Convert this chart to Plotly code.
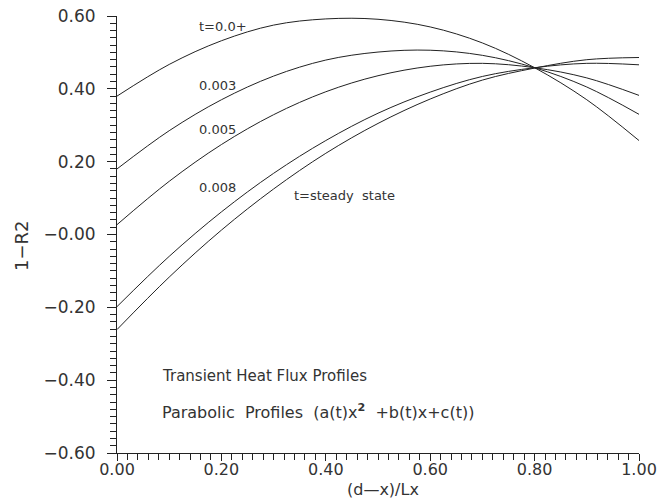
import plotly.graph_objects as go

x_vals = [0.0, 0.1, 0.2, 0.3, 0.4, 0.5, 0.6, 0.7, 0.8, 0.9, 1.0]
t_0plus = [0.380, 0.467, 0.532, 0.575, 0.592, 0.591, 0.570, 0.526, 0.458, 0.370, 0.258]
t_003 = [0.180, 0.285, 0.370, 0.435, 0.479, 0.501, 0.506, 0.492, 0.458, 0.405, 0.330]
t_005 = [0.027, 0.146, 0.247, 0.329, 0.392, 0.436, 0.462, 0.470, 0.458, 0.430, 0.382]
t_008 = [-0.198, -0.060, 0.062, 0.168, 0.258, 0.333, 0.391, 0.434, 0.458, 0.470, 0.466]
t_steady = [-0.261, -0.117, 0.012, 0.125, 0.223, 0.305, 0.372, 0.424, 0.457, 0.480, 0.486]

series = [t_0plus, t_003, t_005, t_008, t_steady]

y_ticks = [-0.6, -0.4, -0.2, 0.0, 0.2, 0.4, 0.6]
y_tick_text = ["\u22120.60", "\u22120.40", "\u22120.20", "\u22120.00", "0.20", "0.40", "0.60"]
x_ticks = [0.0, 0.2, 0.4, 0.6, 0.8, 1.0]
x_tick_text = ["0.00", "0.20", "0.40", "0.60", "0.80", "1.00"]

FONT = "DejaVu Sans"
TXT = "#333333"
NB = "\u00a0"

fig = go.Figure()
for s in series:
    fig.add_trace(go.Scatter(x=x_vals, y=s, mode="lines",
                             line=dict(color="#222222", width=1, shape="spline", smoothing=1.0),
                             showlegend=False, hoverinfo="skip"))

labels = [
    ("t=0.0+", 0.153, 0.570, 13),
    ("0.003", 0.153, 0.408, 13),
    ("0.005", 0.153, 0.287, 13),
    ("0.008", 0.153, 0.128, 13),
    ("t=steady" + NB * 2 + "state", 0.335, 0.106, 13),
    ("Transient" + NB + "Heat" + NB + "Flux" + NB + "Profiles", 0.082, -0.388, 15),
    ("Parabolic" + NB * 2 + "Profiles" + NB * 2 + "(a(t)x<b><sup>2</sup></b>" + NB * 2
     + "+b(t)x+c(t))", 0.082, -0.485, 16),
]
for t, xx, yy, sz in labels:
    fig.add_annotation(x=xx, y=yy, text=t, showarrow=False, xanchor="left", yanchor="middle",
                       font=dict(family=FONT, size=sz, color=TXT))

# axis titles
fig.add_annotation(xref="paper", yref="paper", x=0.51, y=-0.084, text="(d\u2014x)/Lx",
                   showarrow=False, xanchor="center", yanchor="middle",
                   font=dict(family=FONT, size=16, color=TXT))
fig.add_annotation(xref="paper", yref="paper", x=-0.182, y=0.476, text="1\u2212R2",
                   showarrow=False, xanchor="center", yanchor="middle", textangle=-90,
                   font=dict(family=FONT, size=18, color=TXT))

fig.update_layout(
    width=667, height=501,
    margin=dict(l=117, r=28, t=16, b=48, autoexpand=False),
    paper_bgcolor="white", plot_bgcolor="white",
    font=dict(family=FONT, color=TXT),
)
fig.update_xaxes(
    range=[0, 1], tickvals=x_ticks, ticktext=x_tick_text, automargin=False,
    showgrid=False, zeroline=False, showline=True, linecolor="#222", linewidth=1,
    ticks="outside", ticklen=7, tickcolor="#222", ticklabelstandoff=-5,
    minor=dict(dtick=0.02, ticks="outside", ticklen=6, tickcolor="#222", showgrid=False),
    tickfont=dict(family=FONT, size=16, color=TXT),
)
fig.update_yaxes(
    range=[-0.6, 0.6], tickvals=y_ticks, ticktext=y_tick_text, automargin=False,
    showgrid=False, zeroline=False, showline=True, linecolor="#222", linewidth=1,
    ticks="outside", ticklen=9, tickcolor="#222", ticklabelstandoff=8,
    minor=dict(dtick=0.02, ticks="outside", ticklen=6, tickcolor="#222", showgrid=False),
    tickfont=dict(family=FONT, size=17, color=TXT),
)

fig.write_html("out.html")
